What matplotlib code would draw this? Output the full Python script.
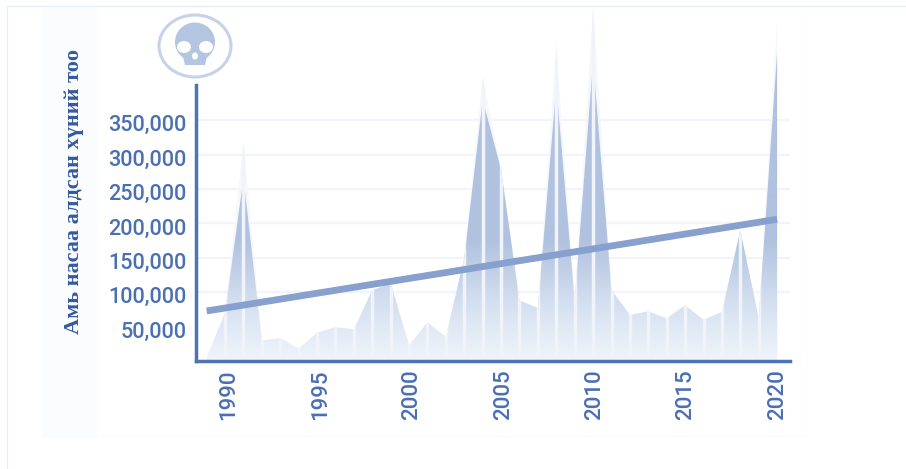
import numpy as np
import matplotlib
matplotlib.use("Agg")
import matplotlib.pyplot as plt
from matplotlib.patches import Polygon, Rectangle, Ellipse
from matplotlib.transforms import ScaledTranslation

years = list(range(1989, 2021))
deaths_solid = [5000, 70000, 266000, 30000, 33000, 18000, 41000, 49000, 46000, 103000, 113000,
                23000, 56000, 35000, 150000, 380000, 278000, 88000, 77000, 400000, 88000,
                437000, 103000, 67000, 72000, 62000, 81000, 60000, 71000, 190000, 62000, 449000]
deaths_faint = [5000, 70000, 318000, 30000, 33000, 18000, 41000, 49000, 46000, 103000, 113000,
                23000, 56000, 35000, 150000, 413000, 278000, 88000, 77000, 459000, 88000,
                517000, 103000, 67000, 72000, 62000, 81000, 60000, 71000, 190000, 62000, 498000]
trend_years = [1989, 2020]
trend_values = [72700, 206000]
y_ticks = [50000, 100000, 150000, 200000, 250000, 300000, 350000]
grid_levels = [100000, 150000, 200000, 250000, 300000, 350000]
x_ticks = [1990, 1995, 2000, 2005, 2010, 2015, 2020]
y_title = "Амь насаа алдсан хүний тоо"

W, H = 906, 469
AXIS = "#4f74b6"
TICK = "#4a6fb2"

fig = plt.figure(figsize=(W / 100, H / 100), dpi=100, facecolor="white")

# page decoration in pixel coordinates
bg = fig.add_axes([0, 0, 1, 1], zorder=0)
bg.set_xlim(0, W); bg.set_ylim(H, 0); bg.axis("off")
bg.add_patch(Rectangle((42, 6), 766, 432, fc="#fbfcfe", ec="none"))
bg.add_patch(Rectangle((98, 6), 709, 429, fc="white", ec="none"))
bg.plot([7, 7, W], [H, 6, 6], color="#e4eff9", lw=1.0)

ax = fig.add_axes([196 / W, (H - 361) / H, (790 - 196) / W, 361 / H], zorder=1)
ax.patch.set_alpha(0)
ymax = 361 * 1453.5
xlim = (1988.42, 2020.7)
ax.set_xlim(*xlim)
ax.set_ylim(0, ymax)

ax.hlines(grid_levels, xlim[0], xlim[1], color="#f1f4fa", lw=1.6, zorder=1)

x = np.array(years, dtype=float)
def area(vals):
    return np.vstack([[x[0], 0], np.column_stack([x, vals]), [x[-1], 0]])

ax.add_patch(Polygon(area(deaths_faint), closed=True, fc="#f5f7fc", ec="none", zorder=2))

# vertical gradient clipped to the area outline
rows = 400
px = np.linspace(361, 0, rows)
r = np.interp(px, [240, 300, 361], [176, 210, 241])
g = np.interp(px, [240, 300, 361], [194, 222, 245])
b = np.interp(px, [240, 300, 361], [223, 239, 251])
grad = np.column_stack([r, g, b])[:, None, :] / 255.0
im = ax.imshow(grad, extent=(xlim[0], xlim[1], 0, ymax), origin="lower", aspect="auto", zorder=3)
solid = Polygon(area(deaths_solid), closed=True, transform=ax.transData, fc="none", ec="none")
ax.add_patch(solid)
im.set_clip_path(solid)
ax.set_xlim(*xlim); ax.set_ylim(0, ymax)

# pale vertical stripes at each year, inside the area only
stripes = ax.vlines(years[1:-1], 0, ymax, color="#f0f3fa", lw=2.5, zorder=4)
stripe_clip = Polygon(area(deaths_faint), closed=True, transform=ax.transData, fc="none", ec="none")
ax.add_patch(stripe_clip)
stripes.set_clip_path(stripe_clip)

ax.plot(trend_years, trend_values, color="#87a0cd", lw=4.9, solid_capstyle="butt", zorder=5, clip_on=False)

for s in ("top", "right"):
    ax.spines[s].set_visible(False)
for s in ("left", "bottom"):
    ax.spines[s].set_color(AXIS)
    ax.spines[s].set_linewidth(2.5)
    ax.spines[s].set_zorder(6)
ax.spines["left"].set_bounds(0, (361 - 85) * 1453.5)

ax.set_yticks(y_ticks)
ax.set_yticklabels([f"{v:,}" for v in y_ticks])
ax.set_xticks(x_ticks)
ax.set_xticklabels([str(v) for v in x_ticks], rotation=90)
ax.tick_params(axis="both", length=0)
ax.tick_params(axis="y", pad=7, labelsize=15.6, labelcolor=TICK)
ax.tick_params(axis="x", pad=6, labelsize=16, labelcolor=TICK)
for lab in ax.get_yticklabels():
    lab.set_fontfamily("Roboto")
    lab.set_fontweight("medium")
    lab.set_transform(lab.get_transform() + ScaledTranslation(0, -3 / 100, fig.dpi_scale_trans))
for lab, yr in zip(ax.get_xticklabels(), x_ticks):
    lab.set_fontfamily("Roboto")
    lab.set_fontweight("medium")
    dx = 4 - (yr - 1990) * 0.13
    lab.set_transform(lab.get_transform() + ScaledTranslation(dx / 100, 0, fig.dpi_scale_trans))

# title and skull icon in pixel coordinates
fg = fig.add_axes([0, 0, 1, 1], zorder=2)
fg.patch.set_alpha(0)
fg.set_xlim(0, W); fg.set_ylim(H, 0); fg.axis("off")
fg.text(74, 192, y_title, rotation=90, ha="center", va="center", fontsize=16,
        fontweight="bold", family="Liberation Serif", color="#33599f")
ICON = "#b4c5e1"
fg.add_patch(Ellipse((195, 46), 72, 62, fc="white", ec="#c5d2e8", lw=2.2))
fg.add_patch(Ellipse((195, 42), 40, 39, fc=ICON, ec="none"))
fg.add_patch(Polygon([(182, 52), (208, 52), (205, 65), (185, 65)], closed=True, fc=ICON, ec="none"))
fg.add_patch(Ellipse((184, 47), 14, 12, fc="white", ec="none"))
fg.add_patch(Ellipse((206, 47), 14, 12, fc="white", ec="none"))
fg.add_patch(Ellipse((195, 56), 6, 7, fc="white", ec="none"))

fig.savefig("out.png", dpi=100)
